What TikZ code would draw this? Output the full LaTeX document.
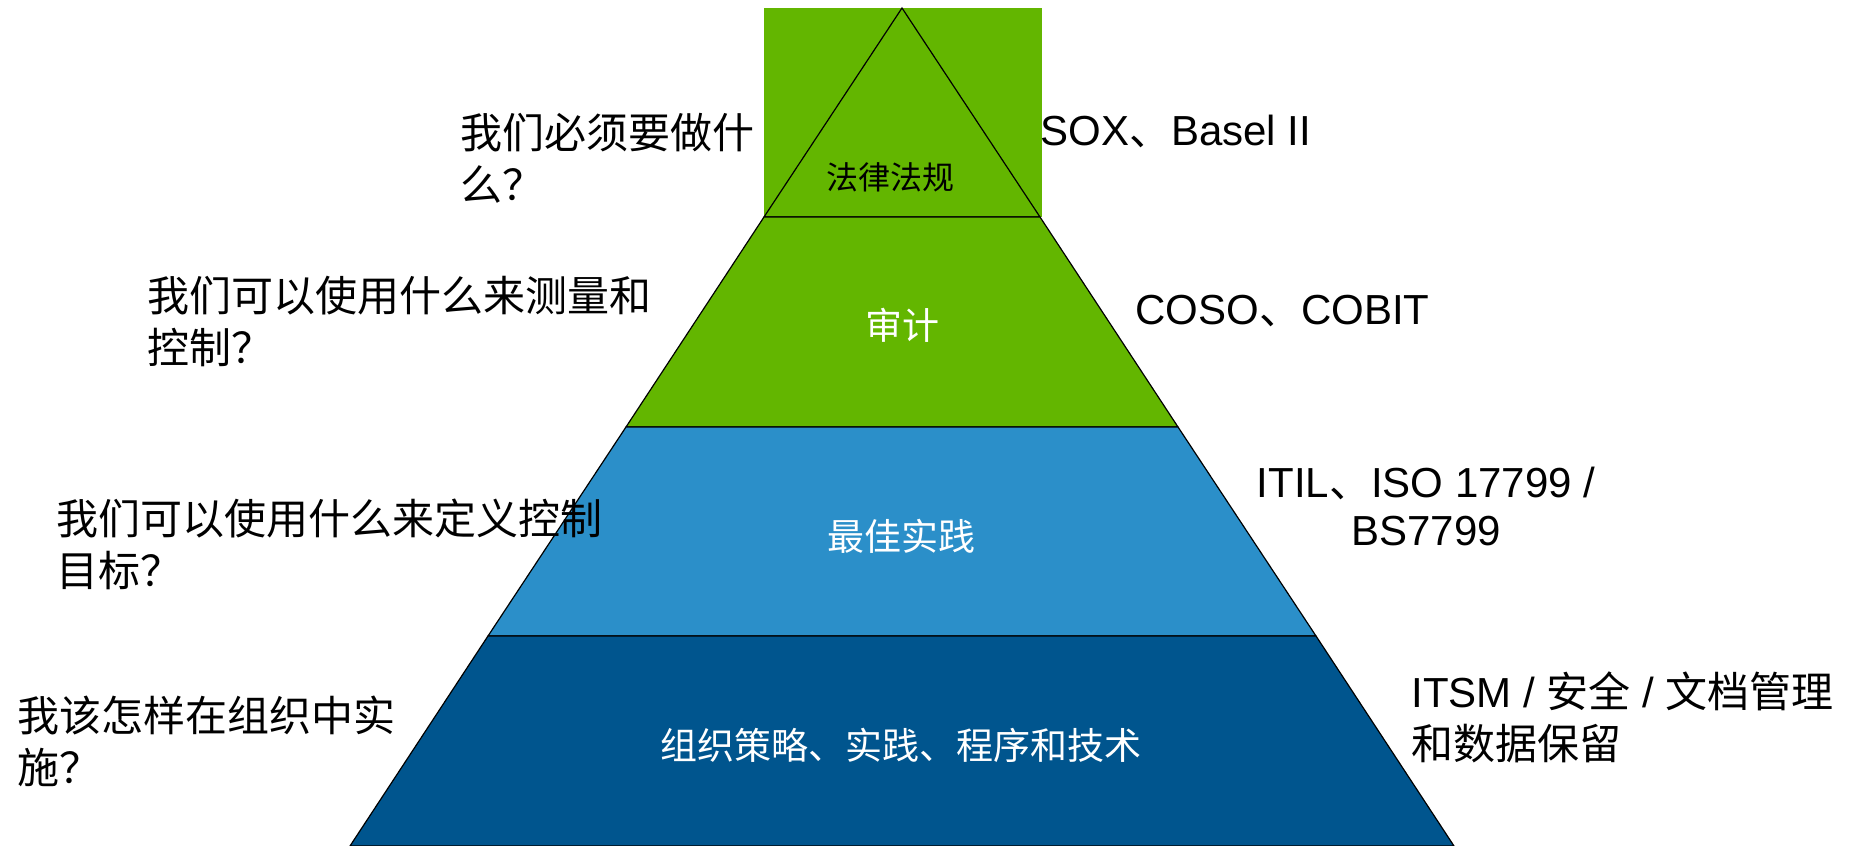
\documentclass[tikz,border=0pt]{standalone}
\usepackage{fontspec}
\setmainfont{Liberation Sans}
\newfontfamily\cjk{Noto Sans CJK SC}
\definecolor{lawgreen}{RGB}{99,182,0}
\definecolor{midblue}{RGB}{43,143,201}
\definecolor{darkblue}{RGB}{0,85,142}
\tikzset{
  band/.style={draw=black, line width=0.6pt, line join=miter},
  question/.style={inner sep=0pt, anchor=west, align=left, font=\cjk\fontsize{21}{26}\selectfont},
  answer/.style={inner sep=0pt, anchor=west, align=left, font=\fontsize{21}{26}\selectfont},
  inlabel/.style={inner sep=0pt, anchor=center, text=white, font=\cjk\fontsize{18.5}{22}\selectfont},
}
\begin{document}
\begin{tikzpicture}[x=0.5pt, y=-0.5pt]
\useasboundingbox (0,0) rectangle (1859,846);
% background square behind the apex
\fill[lawgreen] (764,8) rectangle (1042,217);
% pyramid layers
\coordinate (apex) at (902,8);
\coordinate (l1) at (764,217);  \coordinate (r1) at (1040,217);
\coordinate (l2) at (626,427);  \coordinate (r2) at (1178,427);
\coordinate (l3) at (488,636);  \coordinate (r3) at (1316,636);
\coordinate (l4) at (350,846);  \coordinate (r4) at (1454,846);
\draw[band, fill=lawgreen] (apex) -- (r1) -- (l1) -- cycle;
\draw[band, fill=lawgreen] (l1) -- (r1) -- (r2) -- (l2) -- cycle;
\draw[band, fill=midblue] (l2) -- (r2) -- (r3) -- (l3) -- cycle;
\draw[band, fill=darkblue] (l3) -- (r3) -- (r4) -- (l4) -- cycle;
% labels inside
\node[inlabel, text=black, font=\cjk\fontsize{16}{20}\selectfont] (law) at (890,177) {法律法规};
\node[inlabel] (audit) at (902,325) {审计};
\node[inlabel] (best) at (901,536) {最佳实践};
\node[inlabel] (org) at (901,745) {组织策略、实践、程序和技术};
% questions on the left
\node[question] (q1) at (460,158) {我们必须要做什\\么？};
\node[question] (q2) at (147,321) {我们可以使用什么来测量和\\控制？};
\node[question] (q3) at (56,544) {我们可以使用什么来定义控制\\目标？};
\node[question] (q4) at (17,741) {我该怎样在组织中实\\施？};
% answers on the right
\node[answer] (a1) at (1040,131) {SOX{\cjk 、}Basel II};
\node[answer] (a2) at (1135,311) {COSO{\cjk 、}COBIT};
\node[answer, anchor=center, align=center, font=\fontsize{21}{24}\selectfont] (a3) at (1426,506) {ITIL{\cjk 、}ISO 17799 /\\BS7799};
\node[answer] (a4) at (1411,717) {ITSM / {\cjk 安全} / {\cjk 文档管理}\\{\cjk 和数据保留}};
\end{tikzpicture}
\end{document}
